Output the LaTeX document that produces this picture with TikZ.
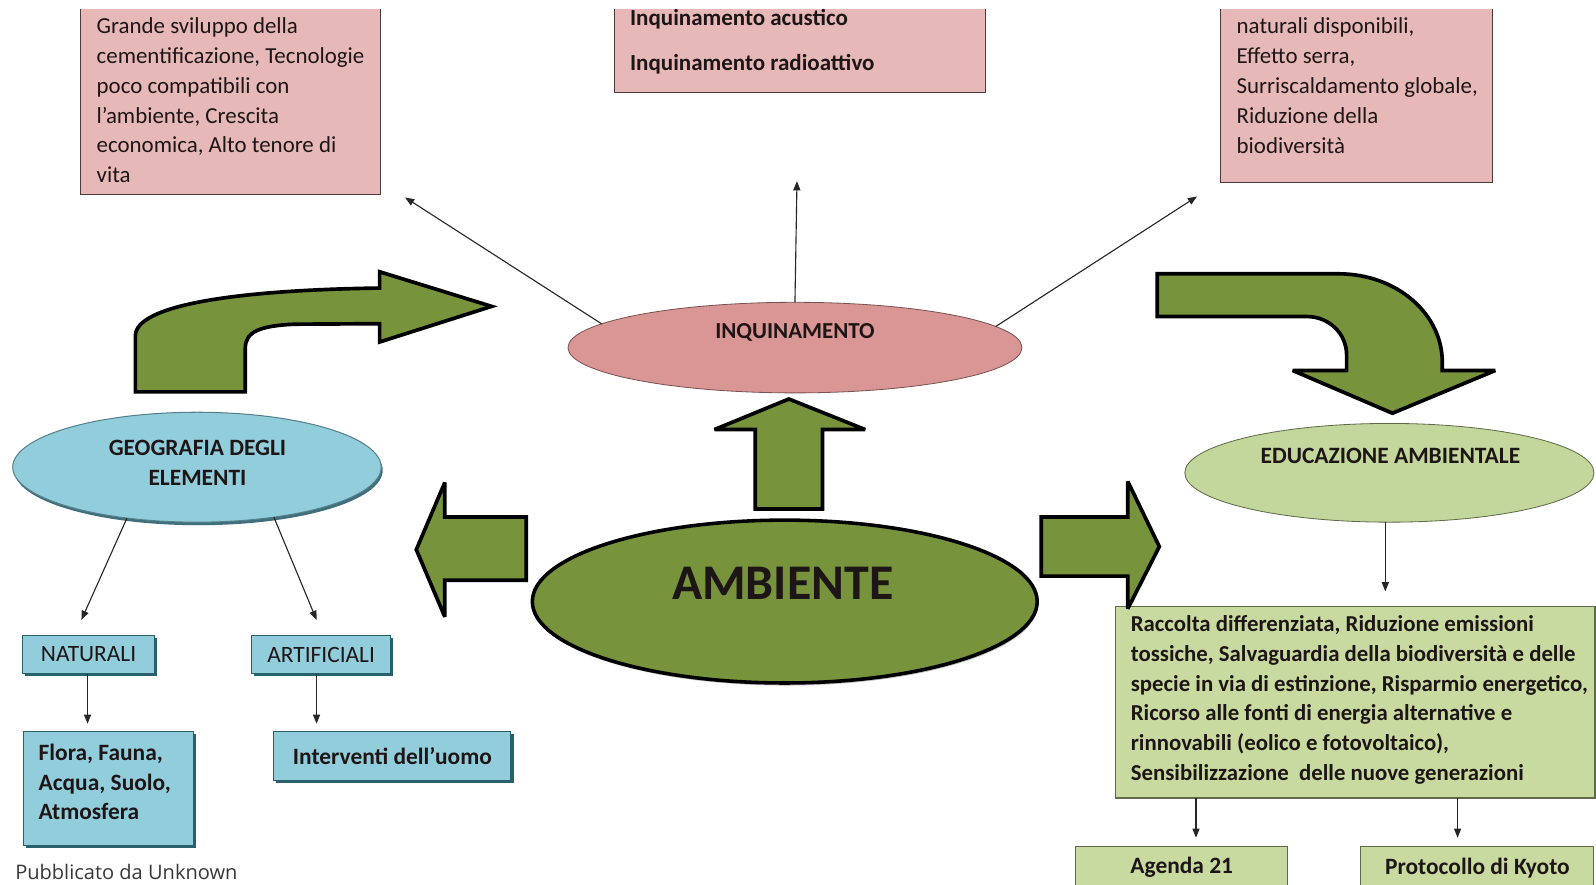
\documentclass[tikz,border=0pt]{standalone}
\usepackage{fontspec}
\setmainfont{Carlito}
\newfontfamily\pubfont{Open Sans}
\usetikzlibrary{arrows.meta,shapes.geometric,shadows}
\definecolor{pinkbox}{HTML}{E6B9B8}
\definecolor{pinkline}{HTML}{4E3A3A}
\definecolor{pinkell}{HTML}{D99694}
\definecolor{olive}{HTML}{77933C}
\definecolor{lgreen}{HTML}{C3D69B}
\definecolor{lgreenbox}{HTML}{C9DAA1}
\definecolor{greenline}{HTML}{5E6A48}
\definecolor{aqua}{HTML}{92CDDC}
\definecolor{aquadark}{HTML}{2A5F6D}
\definecolor{txt}{HTML}{1E1616}
\begin{document}
\begin{tikzpicture}[x=1pt,y=-1pt,
  every node/.style={inner sep=0pt, outer sep=0pt},
  pinkrect/.style={rectangle, draw=pinkline, line width=1.3pt, fill=pinkbox, anchor=north west},
  txtblock/.style={anchor=north west, align=left, text=txt, font=\fontsize{22.5}{29.4}\selectfont},
  boldtxt/.style={text=txt, font=\bfseries\fontsize{23}{29.4}\selectfont},
  conn/.style={draw=black!85, line width=1.1pt, -{Triangle[length=9pt,width=7pt]}},
  bigarrow/.style={fill=olive, draw=black, line width=3.6pt, line join=miter, miter limit=4},
  bluebox/.style={rectangle, fill=aqua, draw=aquadark, line width=1pt, anchor=north west,
     drop shadow={shadow xshift=2.5pt, shadow yshift=-2.5pt, fill=aquadark, opacity=1}},
  greenbox/.style={rectangle, fill=lgreenbox, draw=greenline, line width=1pt, anchor=north west}
]
\useasboundingbox (0,0) rectangle (1568,869);
\clip (0,0) rectangle (1568,869);

% top pink boxes (cut at the top of the picture)
\begin{scope}
\clip (0,9) rectangle (1568,869);
\node[pinkrect, minimum width=295pt, minimum height=191pt] (boxL) at (79,0) {};
\node[pinkrect, minimum width=364pt, minimum height=91pt] (boxM) at (604,0) {};
\node[pinkrect, minimum width=267pt, minimum height=179pt] (boxR) at (1199,0) {};
\end{scope}
\node[txtblock] (tL) at (95,15.7) {\rule{0pt}{17pt}Grande sviluppo della\\cementificazione, Tecnologie\\poco compatibili con\\l’ambiente, Crescita\\economica, Alto tenore di\\vita};
\node[txtblock, font=\bfseries\fontsize{22.6}{44.8}\selectfont] (tM) at (619,7.6) {\rule{0pt}{17pt}Inquinamento acustico\\Inquinamento radioattivo};
\node[txtblock] (tR) at (1215,15.9) {\rule{0pt}{17pt}naturali disponibili,\\Effetto serra,\\Surriscaldamento globale,\\Riduzione della\\biodiversità};

% ellipses
\node[ellipse, fill=pinkell, draw=pinkell!55!black, line width=0.8pt, minimum width=446pt, minimum height=89pt] (inq) at (781,341.5) {};
\node[boldtxt, font=\bfseries\fontsize{22.5}{26}\selectfont] (inqt) at (781,327) {INQUINAMENTO};

\node[ellipse, fill=olive, draw=black, line width=3.5pt, minimum width=496pt, minimum height=160pt,
  drop shadow={shadow xshift=1pt, shadow yshift=-2.5pt, fill=black, opacity=0.25}] (amb) at (771,591) {};
\node[text=txt, font=\bfseries\fontsize{49}{56}\selectfont] (ambt) at (769,573) {AMBIENTE};

\node[ellipse, fill=aqua, draw=aquadark!80, line width=1pt, minimum width=362pt, minimum height=108pt,
  drop shadow={shadow xshift=1.5pt, shadow yshift=-3pt, fill=aquadark, opacity=0.9}] (geo) at (193.5,459) {};
\node[boldtxt, align=center] (geot) at (194,455) {GEOGRAFIA DEGLI\\ELEMENTI};

\node[ellipse, fill=lgreen, draw=greenline, line width=0.8pt, minimum width=402pt, minimum height=97pt] (edu) at (1365,464.5) {};
\node[boldtxt] (edut) at (1366,448) {EDUCAZIONE AMBIENTALE};

% blue boxes
\node[bluebox, minimum width=130pt, minimum height=38pt, text=txt, font=\fontsize{23}{26}\selectfont] (nat) at (22,624) {NATURALI};
\node[bluebox, minimum width=137pt, minimum height=38pt, text=txt, font=\fontsize{23}{26}\selectfont] (art) at (247,624) {ARTIFICIALI};
\node[bluebox, minimum width=167pt, minimum height=112pt] (flo) at (23,719) {};
\node[txtblock, font=\bfseries\fontsize{23}{29.2}\selectfont] (flot) at (38,729) {\rule{0pt}{18pt}Flora, Fauna,\\Acqua, Suolo,\\Atmosfera};
\node[bluebox, minimum width=233pt, minimum height=48pt, boldtxt] (int) at (269,719) {Interventi dell’uomo};

% green boxes
\node[greenbox, minimum width=471pt, minimum height=188pt] (racc) at (1096,596) {};
\node[txtblock, font=\bfseries\fontsize{22.4}{29.2}\selectfont] (racct) at (1111,603.5) {\rule{0pt}{17pt}Raccolta differenziata, Riduzione emissioni\\tossiche, Salvaguardia della biodiversità e delle\\specie in via di estinzione, Risparmio energetico,\\Ricorso alle fonti di energia alternative e\\rinnovabili (eolico e fotovoltaico),\\Sensibilizzazione\ \ delle nuove generazioni};
\node[greenbox, minimum width=208pt, minimum height=41pt, boldtxt] (ag) at (1057,832) {Agenda 21};
\node[greenbox, minimum width=229pt, minimum height=41pt, boldtxt] (kyo) at (1337,832) {Protocollo di Kyoto};

% big green arrows
\draw[bigarrow] (742,500) -- (742,422) -- (702,422) -- (775,392) -- (850,422) -- (808,422) -- (808,500) -- cycle;
\draw[bigarrow] (517,508) -- (437,508) -- (437,474) -- (409,540) -- (437,606) -- (437,570) -- (517,570) -- cycle;
\draw[bigarrow] (1023,508) -- (1108,508) -- (1108,473) -- (1139,537) -- (1108,598) -- (1108,566) -- (1023,566) -- cycle;
\draw[bigarrow] (133,385) -- (133,330) .. controls (133,300) and (230,285) .. (373,283)
  -- (373,267) -- (483,301) -- (373,336) -- (373,318) -- (290,318.5)
  .. controls (255,320) and (241,326) .. (241,342) -- (241,385) -- cycle;
\draw[bigarrow] (1137,269) -- (1315,269) .. controls (1372,269) and (1417,308) .. (1417,356)
  -- (1417,364) -- (1469,364) -- (1368,406) -- (1270,364) -- (1323,364) -- (1323,349)
  .. controls (1323,327.5) and (1305.5,311) .. (1284,311) -- (1137,311) -- cycle;

% connectors
\coordinate (pL) at (398,194);
\coordinate (pM) at (783,178);
\coordinate (pR) at (1176,193);
\draw[conn] (inq.173) -- (pL);
\draw[conn] (inq.north) -- (pM);
\draw[conn] (inq.6) -- (pR);
\coordinate (gN) at (80,609);
\coordinate (gA) at (311,609);
\draw[conn] (geo.216) -- (gN);
\draw[conn] (geo.327) -- (gA);
\coordinate (fN) at (86,711);
\coordinate (fA) at (311,711);
\draw[conn] (nat.south -| fN) -- (fN);
\draw[conn] (art.south -| fA) -- (fA);
\coordinate (eR) at (1361,581);
\draw[conn] (edu.south -| eR) -- (eR);
\coordinate (rA) at (1175,823);
\coordinate (rK) at (1432,823);
\draw[conn] (racc.south -| rA) -- (rA);
\draw[conn] (racc.south -| rK) -- (rK);

\node[anchor=base west, text=black!78, font=\pubfont\fontsize{19.7}{23}\selectfont] (pub) at (15,864) {Pubblicato da Unknown};
\end{tikzpicture}
\end{document}
